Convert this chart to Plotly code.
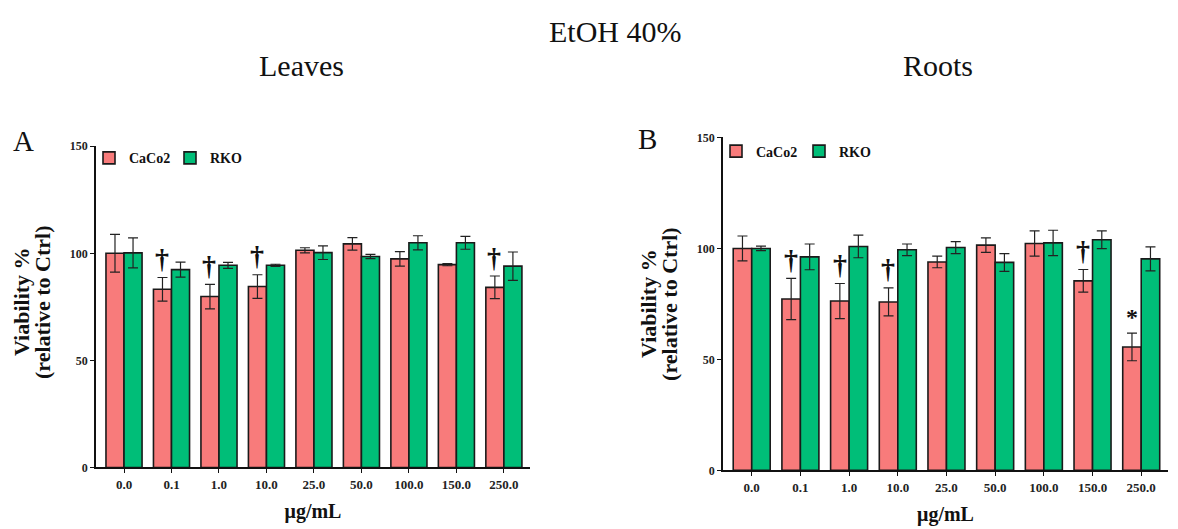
import plotly.graph_objects as go

W, H = 1178, 529

doses = ["0.0", "0.1", "1.0", "10.0", "25.0", "50.0", "100.0", "150.0", "250.0"]

leaves_caco2 = [100.0, 83.2, 79.8, 84.5, 101.4, 104.4, 97.4, 94.7, 84.1]
leaves_caco2_err = [8.8, 5.5, 5.7, 5.5, 1.2, 2.9, 3.4, 0.5, 5.3]
leaves_rko = [100.2, 92.4, 94.4, 94.4, 100.3, 98.5, 104.9, 104.9, 94.0]
leaves_rko_err = [7.0, 3.5, 1.4, 0.5, 3.2, 1.0, 3.3, 3.0, 6.6]
leaves_sig = ["", "†", "†", "†", "", "", "", "", "†"]

roots_caco2 = [100.0, 77.2, 76.3, 75.9, 93.9, 101.5, 102.2, 85.4, 55.6]
roots_caco2_err = [5.6, 9.3, 7.9, 6.3, 2.6, 3.3, 5.7, 5.1, 6.2]
roots_rko = [100.0, 96.2, 100.9, 99.4, 100.4, 93.7, 102.5, 103.9, 95.3]
roots_rko_err = [1.0, 5.8, 5.1, 2.6, 2.7, 4.0, 5.7, 4.0, 5.4]
roots_sig = ["", "†", "†", "†", "", "", "", "†", "*"]

RED = "#F87B7B"
GREEN = "#00BE78"
SERIF = "Liberation Serif"


def px_x(p):
    return p / W


def px_y(p):
    return 1 - p / H


fig = go.Figure()


def add_bars(xa, ya, caco2, caco2_err, rko, rko_err, legend):
    for name, vals, errs, col in (("CaCo2", caco2, caco2_err, RED), ("RKO", rko, rko_err, GREEN)):
        fig.add_trace(go.Bar(
            x=doses, y=vals, name=name, xaxis=xa, yaxis=ya,
            marker=dict(color=col, line=dict(color="#1a1a1a", width=1.6)),
            error_y=dict(type="data", array=errs, color="#222222", thickness=1.2, width=5),
            legend=legend, showlegend=True,
        ))


add_bars("x", "y", leaves_caco2, leaves_caco2_err, leaves_rko, leaves_rko_err, "legend")
add_bars("x2", "y2", roots_caco2, roots_caco2_err, roots_rko, roots_rko_err, "legend2")

tickfont = dict(family=SERIF, size=13, color="#222222", weight="bold")
titlefont = dict(family=SERIF, size=20, color="#111111", weight="bold")

xcommon = dict(type="category", showline=True, linecolor="#111111", linewidth=1.8,
               ticks="outside", ticklen=4, tickwidth=1.2, tickcolor="#111111",
               showgrid=False, zeroline=False, tickfont=tickfont,
               title=dict(text="μg/mL", font=titlefont, standoff=13),
               range=[-0.59, 8.55])
ycommon = dict(range=[0, 150], tickvals=[0, 50, 100, 150], showline=True,
               linecolor="#111111", linewidth=1.8, ticks="outside", ticklen=4,
               tickwidth=1.2, tickcolor="#111111", showgrid=False, zeroline=False,
               tickfont=dict(family=SERIF, size=12, color="#222222", weight="bold"))

legfont = dict(family=SERIF, size=14, color="#111111", weight="bold")

fig.update_layout(
    width=W, height=H,
    margin=dict(l=0, r=0, t=0, b=0),
    paper_bgcolor="white", plot_bgcolor="white",
    barmode="group", bargap=0.24, bargroupgap=0,
    xaxis=dict(domain=[px_x(96), px_x(530)], anchor="y", **xcommon),
    yaxis=dict(domain=[px_y(473), px_y(143)], anchor="x", **ycommon),
    xaxis2=dict(domain=[px_x(723), px_x(1168)], anchor="y2", **xcommon),
    yaxis2=dict(domain=[px_y(476), px_y(134)], anchor="x2", **ycommon),
    legend=dict(x=px_x(89), y=px_y(139), xanchor="left", yanchor="top",
                orientation="h", font=legfont,
                bgcolor="rgba(0,0,0,0)", entrywidth=36, entrywidthmode="pixels",
                itemclick=False, itemdoubleclick=False),
    legend2=dict(x=px_x(716), y=px_y(132), xanchor="left", yanchor="top",
                 orientation="h", font=legfont,
                 bgcolor="rgba(0,0,0,0)", entrywidth=38, entrywidthmode="pixels",
                 itemclick=False, itemdoubleclick=False),
    showlegend=True,
)

ann = []


def text_ann(text, x, y, size, bold=False, angle=0):
    f = dict(family=SERIF, size=size, color="#111111")
    if bold:
        f["weight"] = "bold"
    ann.append(dict(text=text, x=px_x(x), y=px_y(y), xref="paper", yref="paper",
                    xanchor="center", yanchor="middle", showarrow=False,
                    textangle=angle, font=f))


text_ann("EtOH 40%", 615, 25, 30)
text_ann("Leaves", 301, 60, 30)
text_ann("Roots", 938, 60, 30)
text_ann("A", 23, 138, 29)
text_ann("B", 647, 136, 29)

# y-axis titles (two lines each)
text_ann("Viability %", 22, 303, 22, bold=True, angle=-90)
text_ann("(relative to Ctrl)", 43, 303, 22, bold=True, angle=-90)
text_ann("Viability %", 649, 305, 22, bold=True, angle=-90)
text_ann("(relative to Ctrl)", 670, 305, 22, bold=True, angle=-90)

# significance marks above CaCo2 bars
for xa, ya, vals, errs, sig in (("x", "y", leaves_caco2, leaves_caco2_err, leaves_sig),
                                 ("x2", "y2", roots_caco2, roots_caco2_err, roots_sig)):
    for i, (v, e, s) in enumerate(zip(vals, errs, sig)):
        if s:
            ann.append(dict(text=s, x=i, y=v + e, xref=xa, yref=ya, showarrow=False,
                            xshift=-9.5, yshift=19 if s == "†" else 16,
                            xanchor="center", yanchor="middle",
                            font=dict(family=SERIF, size=28 if s == "†" else 24,
                                      color="#111111", weight="bold")))

fig.update_layout(annotations=ann)

fig.write_html("out.html")
